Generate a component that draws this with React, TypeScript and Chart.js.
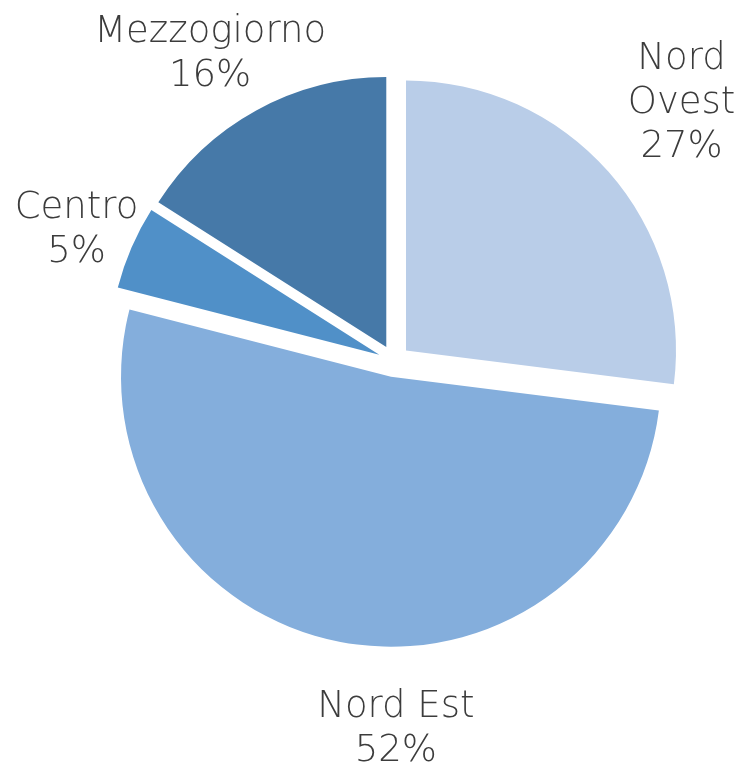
import React, { useEffect, useRef } from "react";
import { Chart, registerables } from "chart.js";

Chart.register(...registerables);

const categories = ["Nord Ovest", "Nord Est", "Centro", "Mezzogiorno"];
const shares = [27, 52, 5, 16];
const labelLines = [["Nord", "Ovest", "27%"], ["Nord Est", "52%"], ["Centro", "5%"], ["Mezzogiorno", "16%"]];
const sliceColors = ["#B9CDE8", "#84AEDC", "#5090C8", "#4679A8"];

// label block centres relative to pie centre, in units of the radius
const labelAnchors = [
  [1.065, -0.955],
  [0.007, 1.366],
  [-1.176, -0.482],
  [-0.681, -1.136],
];

const RADIUS = 270;
const EXPLODE = 16;
const FONT_SIZE = 37;
const LINE_H = 44;
const FONT_FAMILY = "'DejaVu Sans', sans-serif";

const explodePlugin = {
  id: "explode",
  beforeDatasetDraw(chart: any, args: any) {
    const ctx = chart.ctx;
    args.meta.data.forEach((arc: any) => {
      const mid = (arc.startAngle + arc.endAngle) / 2;
      ctx.save();
      ctx.translate(Math.cos(mid) * EXPLODE, Math.sin(mid) * EXPLODE);
      arc.draw(ctx);
      ctx.restore();
    });
    return false;
  },
  afterDraw(chart: any) {
    const ctx = chart.ctx;
    const meta = chart.getDatasetMeta(0);
    const first = meta.data[0];
    if (!first) return;
    const cx = first.x;
    const cy = first.y;
    const r = first.outerRadius;
    ctx.save();
    ctx.fillStyle = "#3c3c3c";
    ctx.font = `200 ${FONT_SIZE}px ${FONT_FAMILY}`;
    ctx.textAlign = "center";
    ctx.textBaseline = "middle";
    labelLines.forEach((lines, i) => {
      const bx = cx + labelAnchors[i][0] * r;
      const by = cy + labelAnchors[i][1] * r;
      const top = by - ((lines.length - 1) * LINE_H) / 2;
      lines.forEach((t, j) => ctx.fillText(t, bx, top + j * LINE_H));
    });
    ctx.restore();
  },
};

export default function App() {
  const ref = useRef<HTMLCanvasElement>(null);
  useEffect(() => {
    if (!ref.current) return;
    const chart = new Chart(ref.current, {
      type: "pie",
      data: {
        labels: categories,
        datasets: [
          {
            data: shares,
            backgroundColor: sliceColors,
            borderWidth: 0,
          },
        ],
      },
      options: {
        responsive: false,
        animation: false,
        radius: RADIUS,
        layout: { padding: { left: 50, right: 0, top: 0, bottom: 44 } },
        plugins: { legend: { display: false }, tooltip: { enabled: false } },
      } as any,
      plugins: [explodePlugin],
    });
    return () => chart.destroy();
  }, []);
  return (
    <div style={{ position: "fixed", left: 0, top: 0, width: 738, height: 766 }}>
      <canvas ref={ref} width={738} height={766} style={{ display: "block" }} />
    </div>
  );
}
